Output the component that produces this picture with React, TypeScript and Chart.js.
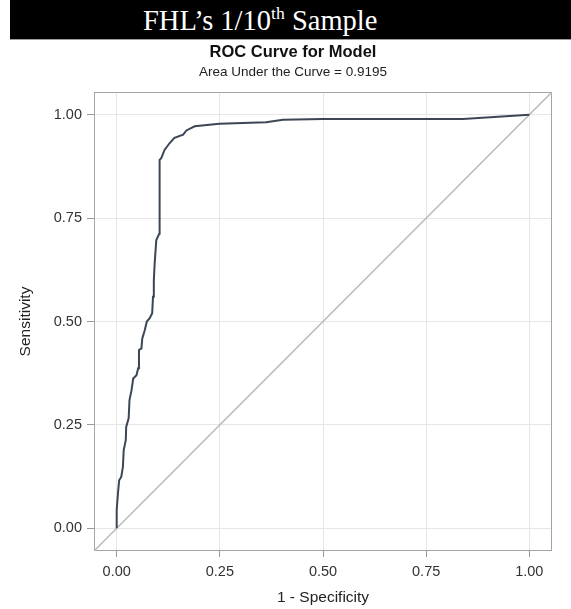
import React, { useEffect, useRef } from "react";
import { Chart, registerables } from "chart.js";

Chart.register(...registerables);

// ROC curve (1 - specificity, sensitivity)
const FPR = [
  0, 0, 0.003, 0.006, 0.011, 0.015, 0.017, 0.022, 0.023, 0.029, 0.031, 0.036, 0.04, 0.048,
  0.052, 0.054, 0.06, 0.062, 0.068, 0.073, 0.08, 0.086, 0.088, 0.09, 0.092, 0.096, 0.103,
  0.104, 0.108, 0.116, 0.128, 0.14, 0.161, 0.169, 0.189, 0.249, 0.362, 0.403, 0.5, 0.839, 1,
];
const TPR = [
  0, 0.044, 0.084, 0.116, 0.124, 0.148, 0.189, 0.213, 0.245, 0.266, 0.31, 0.334, 0.362, 0.37,
  0.387, 0.431, 0.435, 0.459, 0.479, 0.5, 0.508, 0.52, 0.56, 0.6, 0.64, 0.697, 0.712,
  0.891, 0.895, 0.915, 0.931, 0.944, 0.952, 0.962, 0.972, 0.978, 0.982, 0.988, 0.99, 0.99, 1,
];

const TICK_VALUES = [0, 0.25, 0.5, 0.75, 1];
const AXIS_MIN = -0.055;
const AXIS_MAX = 1.055;

const BANNER_MAIN = "FHL\u2019s 1/10";
const BANNER_SUP = "th";
const BANNER_END = " Sample";
const TITLE = "ROC Curve for Model";
const SUBTITLE = "Area Under the Curve = 0.9195";
const X_TITLE = "1 - Specificity";
const Y_TITLE = "Sensitivity";

const FONT = "'Liberation Sans', Arial, Helvetica, sans-serif";

const framePlugin = {
  id: "frame",
  beforeDatasetsDraw(chart: any) {
    const { ctx, chartArea } = chart;
    ctx.save();
    ctx.strokeStyle = "#a4a4a4";
    ctx.lineWidth = 1;
    ctx.strokeRect(
      chartArea.left + 0.5,
      chartArea.top + 0.5,
      chartArea.right - chartArea.left - 1,
      chartArea.bottom - chartArea.top - 1
    );
    ctx.restore();
  },
};

export default function App() {
  const canvasRef = useRef<HTMLCanvasElement | null>(null);

  useEffect(() => {
    const canvas = canvasRef.current;
    if (!canvas) return;
    const curve = FPR.map((x, i) => ({ x, y: TPR[i] }));
    const diagonal = [
      { x: AXIS_MIN, y: AXIS_MIN },
      { x: AXIS_MAX, y: AXIS_MAX },
    ];
    const setTicks = (scale: any) => {
      scale.ticks = TICK_VALUES.map((v) => ({ value: v }));
    };
    const chart = new Chart(canvas, {
      type: "scatter",
      data: {
        datasets: [
          {
            data: diagonal,
            showLine: true,
            borderColor: "#b8b8b8",
            borderWidth: 1.5,
            pointRadius: 0,
            tension: 0,
            order: 2,
          },
          {
            data: curve,
            showLine: true,
            borderColor: "#3c4655",
            borderWidth: 2,
            pointRadius: 0,
            tension: 0,
            order: 1,
          },
        ],
      },
      options: {
        responsive: false,
        animation: false,
        layout: { padding: { top: 41, left: 34, right: 19, bottom: 0 } },
        plugins: {
          legend: { display: false },
          tooltip: { enabled: false },
          title: {
            display: true,
            text: TITLE,
            color: "#111",
            font: { family: FONT, size: 16.5, weight: "bold" },
            padding: { top: 2, bottom: 0 },
          },
          subtitle: {
            display: true,
            text: SUBTITLE,
            color: "#222",
            font: { family: FONT, size: 13.5, weight: "normal" },
            padding: { top: 1, bottom: 12 },
          },
        },
        scales: {
          x: {
            type: "linear",
            min: AXIS_MIN,
            max: AXIS_MAX,
            afterBuildTicks: setTicks,
            afterFit: (scale: any) => {
              scale.height = 58;
            },
            grid: {
              color: "#e6e6e6",
              tickColor: "#9a9a9a",
              tickLength: 6,
              drawTicks: true,
            },
            border: { display: false },
            ticks: {
              color: "#333",
              font: { family: FONT, size: 14.5 },
              padding: 6,
              maxRotation: 0,
              callback: (v: any) => Number(v).toFixed(2),
            },
            title: {
              display: true,
              text: X_TITLE,
              color: "#222",
              font: { family: FONT, size: 15.5 },
              padding: { top: 0, bottom: 2 },
            },
          },
          y: {
            type: "linear",
            min: AXIS_MIN,
            max: AXIS_MAX,
            afterBuildTicks: setTicks,
            afterFit: (scale: any) => {
              scale.width = 60;
            },
            grid: {
              color: "#e6e6e6",
              tickColor: "#9a9a9a",
              tickLength: 7,
              drawTicks: true,
            },
            border: { display: false },
            ticks: {
              color: "#333",
              font: { family: FONT, size: 14.5 },
              padding: 5,
              callback: (v: any) => Number(v).toFixed(2),
            },
            title: {
              display: true,
              text: Y_TITLE,
              color: "#222",
              font: { family: FONT, size: 15.5 },
              padding: { top: -18, bottom: 0 },
            },
          },
        },
      },
      plugins: [framePlugin],
    } as any);
    return () => chart.destroy();
  }, []);

  return (
    <div
      style={{
        position: "fixed",
        left: 0,
        top: 0,
        width: 571,
        height: 609,
        background: "#fff",
        overflow: "hidden",
      }}
    >
      <canvas
        ref={canvasRef}
        width={571}
        height={609}
        style={{ position: "absolute", left: 0, top: 0, width: 571, height: 609 }}
      />
      <div
        style={{
          position: "absolute",
          left: 10,
          top: 0,
          width: 561,
          height: 40,
          background: "#000",
          borderBottom: "1px solid #9a9a9a",
          color: "#fff",
          fontFamily: "'Liberation Serif', 'Times New Roman', serif",
          fontSize: 28.5,
          lineHeight: "41px",
          paddingLeft: 133,
          boxSizing: "border-box",
          whiteSpace: "nowrap",
        }}
      >
        {BANNER_MAIN}
        <span style={{ fontSize: "0.62em", position: "relative", top: "-0.6em" }}>{BANNER_SUP}</span>
        {BANNER_END}
      </div>
    </div>
  );
}
